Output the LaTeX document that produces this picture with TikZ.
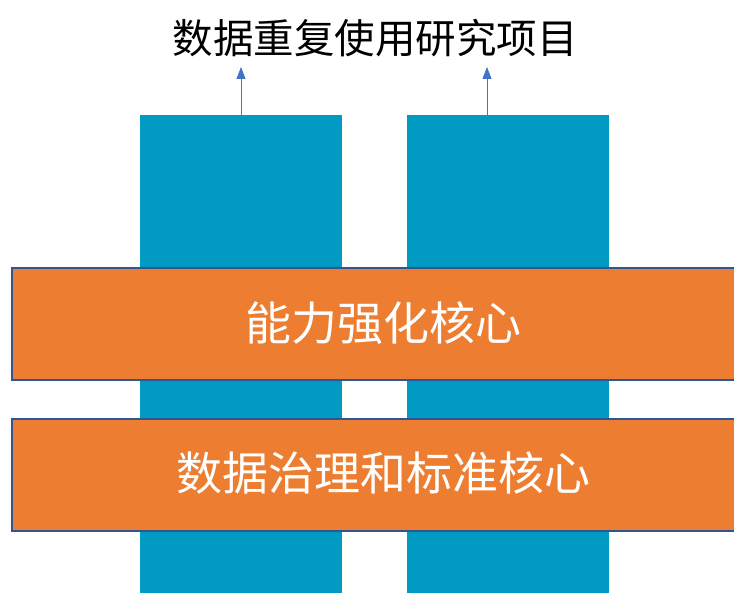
\documentclass[tikz,border=0pt]{standalone}
\usepackage{fontspec}
\newfontfamily\cjk{Noto Sans CJK SC}
\usetikzlibrary{arrows.meta}
\definecolor{barteal}{HTML}{009AC2}
\definecolor{boxorange}{HTML}{ED7D31}
\definecolor{boxline}{HTML}{2F5597}
\definecolor{arrowblue}{HTML}{4472C4}
\tikzset{
  bar/.style={fill=barteal, draw=none, minimum width=202pt, minimum height=478pt, inner sep=0pt, anchor=north west},
  core/.style={fill=boxorange, draw=boxline, line width=1.8pt, minimum width=740pt, minimum height=112pt, inner sep=0pt, anchor=north west},
  coretext/.style={text=white, font=\cjk\fontsize{46}{50}\selectfont},
  up/.style={draw=arrowblue, line width=0.9pt, -{Triangle[length=12pt,width=9pt]}}
}
\begin{document}
\begin{tikzpicture}[x=1pt,y=-1pt]
\useasboundingbox (0,0) rectangle (734,593);
\clip (0,0) rectangle (734,593);
\node[bar] (b1) at (140,115) {};
\node[bar] (b2) at (407,115) {};
\node[core] (c1) at (11,267) {};
\node[core] (c2) at (11,418) {};
\node[coretext] (t1) at (383,323) {能力强化核心};
\node[coretext] (t2) at (383,473) {数据治理和标准核心};
\node[font=\cjk\fontsize{40.5}{44}\selectfont, text=black] (title) at (375,38) {数据重复使用研究项目};
\coordinate (a1) at (241,67);
\coordinate (a2) at (487,67);
\draw[up] (b1.north west -| a1) -- (a1);
\draw[up] (b2.north west -| a2) -- (a2);
\end{tikzpicture}
\end{document}
